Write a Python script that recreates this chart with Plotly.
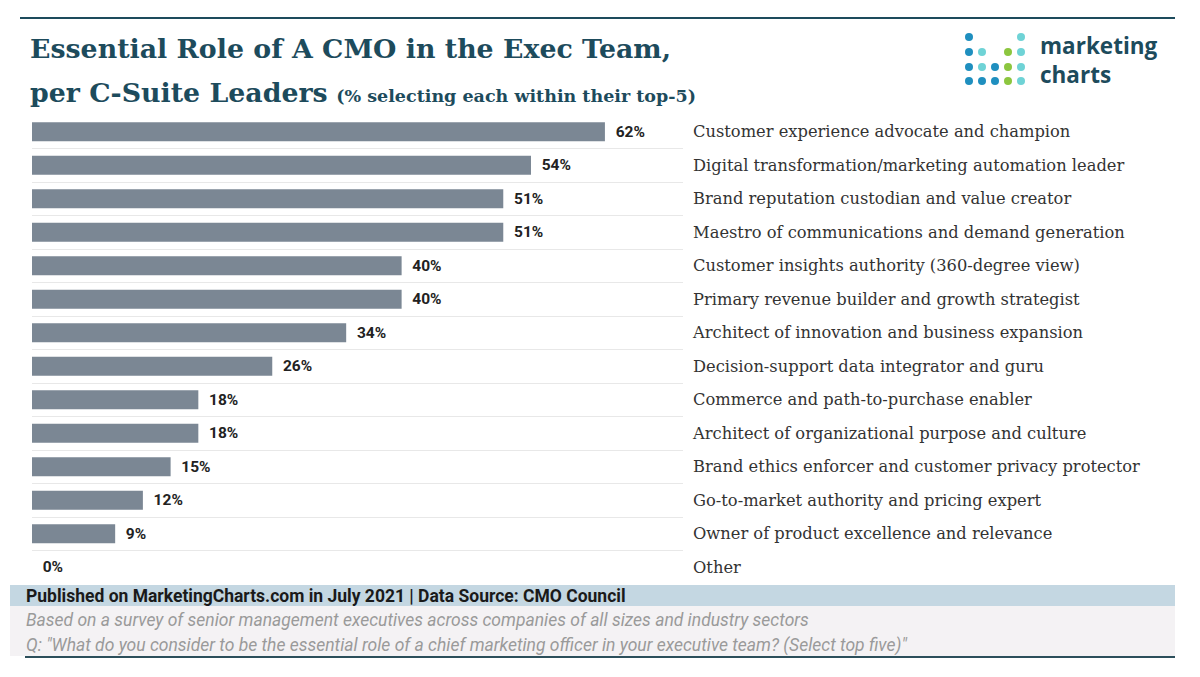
import plotly.graph_objects as go

categories = [
    "Customer experience advocate and champion",
    "Digital transformation/marketing automation leader",
    "Brand reputation custodian and value creator",
    "Maestro of communications and demand generation",
    "Customer insights authority (360-degree view)",
    "Primary revenue builder and growth strategist",
    "Architect of innovation and business expansion",
    "Decision-support data integrator and guru",
    "Commerce and path-to-purchase enabler",
    "Architect of organizational purpose and culture",
    "Brand ethics enforcer and customer privacy protector",
    "Go-to-market authority and pricing expert",
    "Owner of product excellence and relevance",
    "Other",
]
values = [62, 54, 51, 51, 40, 40, 34, 26, 18, 18, 15, 12, 9, 0]

W, H = 1200, 677
L, R, T, B = 32, 683, 115, 584  # plot area in pixels

def px(x):
    return (x - L) / (R - L)

def py(y):
    return (B - y) / (B - T)

TEAL = "#1d4b5c"
fig = go.Figure()
fig.add_trace(go.Bar(
    x=values, y=categories, orientation="h",
    marker=dict(color="#7b8794", line=dict(width=0)),
    text=[f"{v}%" for v in values], texttemplate="  %{text}",
    textposition="outside", cliponaxis=False,
    textfont=dict(family="Roboto", size=15.5, color="#222222", weight="bold"),
    hoverinfo="skip",
))

fig.update_layout(
    width=W, height=H,
    margin=dict(l=L, r=W - R, t=T, b=H - B, pad=0),
    paper_bgcolor="white", plot_bgcolor="white",
    showlegend=False, bargap=0.43,
    xaxis=dict(range=[0, 70.45], showgrid=False, zeroline=False, showticklabels=False,
               showline=False, fixedrange=True),
    yaxis=dict(autorange="reversed", side="right", showgrid=True, gridcolor="#e8e8e8",
               gridwidth=1, tickson="boundaries", ticks="", showline=False, zeroline=False,
               ticklabelstandoff=9,
               tickfont=dict(family="DejaVu Serif", size=16.3, color="#333333")),
)

shapes = [
    dict(type="line", xref="paper", yref="paper", x0=px(20), x1=px(1175), y0=py(18), y1=py(18),
         line=dict(color=TEAL, width=2)),
    dict(type="rect", xref="paper", yref="paper", x0=px(10), x1=px(1175), y0=py(585), y1=py(606),
         fillcolor="#c4d7e2", line=dict(width=0), layer="below"),
    dict(type="rect", xref="paper", yref="paper", x0=px(10), x1=px(1175), y0=py(606), y1=py(656),
         fillcolor="#f4f2f4", line=dict(width=0), layer="below"),
    dict(type="line", xref="paper", yref="paper", x0=px(25), x1=px(1175), y0=py(657), y1=py(657),
         line=dict(color="#2c4f5b", width=2)),
]

# logo dots
BLUE, LTEAL, GREEN = "#1f8fbf", "#6fd3d6", "#8cc63f"
dot_cols = [969, 982, 995, 1008, 1021]
dot_rows = [37, 52, 67, 81]
pattern = [
    [BLUE, None, None, None, LTEAL],
    [BLUE, LTEAL, None, GREEN, LTEAL],
    [BLUE, LTEAL, BLUE, GREEN, LTEAL],
    [BLUE, BLUE, BLUE, GREEN, LTEAL],
]
for ri, row in enumerate(pattern):
    for ci, c in enumerate(row):
        if c:
            cx, cy = dot_cols[ci], dot_rows[ri]
            shapes.append(dict(type="circle", xref="paper", yref="paper",
                               x0=px(cx - 4), x1=px(cx + 4), y0=py(cy - 4), y1=py(cy + 4),
                               fillcolor=c, line=dict(width=0)))
fig.update_layout(shapes=shapes)

ann = []
ann.append(dict(x=px(28), y=py(48), xref="paper", yref="paper", xanchor="left", yanchor="middle",
                text="<b>Essential Role of A CMO in the Exec Team,</b>", showarrow=False,
                font=dict(family="DejaVu Serif", size=26.8, color=TEAL)))
ann.append(dict(x=px(28), y=py(93), xref="paper", yref="paper", xanchor="left", yanchor="middle",
                text="<b>per C-Suite Leaders</b> <span style='font-size:17.5px'><b>(% selecting each within their top-5)</b></span>",
                showarrow=False, font=dict(family="DejaVu Serif", size=26.8, color=TEAL)))
ann.append(dict(x=px(1038), y=py(60), xref="paper", yref="paper", xanchor="left", yanchor="middle",
                align="left", text="<b>marketing<br>charts</b>", showarrow=False,
                font=dict(family="Open Sans", size=22.5, color=TEAL)))
ann.append(dict(x=px(24), y=py(596), xref="paper", yref="paper", xanchor="left", yanchor="middle",
                text="<b>Published on MarketingCharts.com in July 2021 | Data Source: CMO Council</b>",
                showarrow=False, font=dict(family="Roboto", size=17.5, color="#1a1a1a")))
ann.append(dict(x=px(24), y=py(620), xref="paper", yref="paper", xanchor="left", yanchor="middle",
                text="<i>Based on a survey of senior management executives across companies of all sizes and industry sectors</i>",
                showarrow=False, font=dict(family="Roboto", size=17.5, color="#9a9a9a")))
ann.append(dict(x=px(24), y=py(645), xref="paper", yref="paper", xanchor="left", yanchor="middle",
                text="<i>Q: \"What do you consider to be the essential role of a chief marketing officer in your executive team? (Select top five)\"</i>",
                showarrow=False, font=dict(family="Roboto", size=17.5, color="#9a9a9a")))
fig.update_layout(annotations=ann)

fig.write_html("out.html")
